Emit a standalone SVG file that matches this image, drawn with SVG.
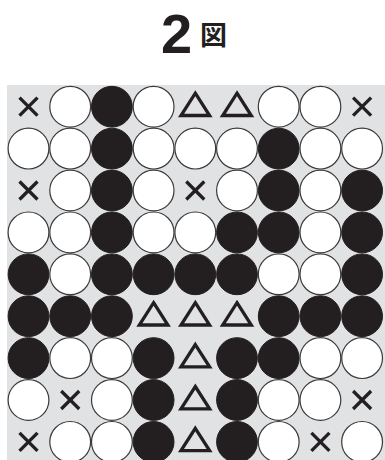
<svg xmlns="http://www.w3.org/2000/svg" xmlns:xlink="http://www.w3.org/1999/xlink" width="385" height="460" viewBox="0 0 385 460">
<style>
.w{fill:#ffffff;stroke:#3a3a3a;stroke-width:1.2}
.b{fill:#231f20;stroke:#231f20;stroke-width:1}
.x{stroke:#231f20;stroke-width:3.3;stroke-linecap:butt;fill:none}
.t{stroke:#231f20;stroke-width:3.3;fill:none;stroke-linejoin:miter}
.title{font-family:"Liberation Sans",Arial,sans-serif;font-weight:bold;fill:#231f20}
.kanji{font-family:"Noto Sans CJK JP",sans-serif;font-weight:bold;fill:#231f20}
</style>
<defs>
<circle id="W" class="w" r="20.4"/>
<circle id="B" class="b" r="20.4"/>
<g id="X" class="x"><line x1="-9" y1="-9" x2="9" y2="9"/><line x1="-9" y1="9" x2="9" y2="-9"/></g>
<polygon id="T" class="t" points="0,-13.5 14.3,8.8 -14.3,8.8"/>
</defs>
<g id="title">
<text class="title" x="161" y="53" font-size="56">2</text>
<text class="kanji" x="200" y="44.5" font-size="27">図</text>
</g>
<rect id="board" x="7" y="85" width="378" height="375" fill="#e1e2e4"/>
<g id="connectors"></g>
<g id="stones">
<g id="r0">
<use href="#X" x="28.5" y="106.7"/><use href="#W" x="70.2" y="106.7"/><use href="#B" x="111.9" y="106.7"/><use href="#W" x="153.6" y="106.7"/><use href="#T" x="195.3" y="106.7"/><use href="#T" x="237" y="106.7"/><use href="#W" x="278.7" y="106.7"/><use href="#W" x="320.4" y="106.7"/><use href="#X" x="362.1" y="106.7"/>
</g>
<g id="r1">
<use href="#W" x="28.5" y="148.6"/><use href="#W" x="70.2" y="148.6"/><use href="#B" x="111.9" y="148.6"/><use href="#W" x="153.6" y="148.6"/><use href="#W" x="195.3" y="148.6"/><use href="#W" x="237" y="148.6"/><use href="#B" x="278.7" y="148.6"/><use href="#W" x="320.4" y="148.6"/><use href="#W" x="362.1" y="148.6"/>
</g>
<g id="r2">
<use href="#X" x="28.5" y="190.5"/><use href="#W" x="70.2" y="190.5"/><use href="#B" x="111.9" y="190.5"/><use href="#W" x="153.6" y="190.5"/><use href="#X" x="195.3" y="190.5"/><use href="#W" x="237" y="190.5"/><use href="#B" x="278.7" y="190.5"/><use href="#W" x="320.4" y="190.5"/><use href="#B" x="362.1" y="190.5"/>
</g>
<g id="r3">
<use href="#W" x="28.5" y="232.4"/><use href="#W" x="70.2" y="232.4"/><use href="#B" x="111.9" y="232.4"/><use href="#W" x="153.6" y="232.4"/><use href="#W" x="195.3" y="232.4"/><use href="#B" x="237" y="232.4"/><use href="#B" x="278.7" y="232.4"/><use href="#W" x="320.4" y="232.4"/><use href="#B" x="362.1" y="232.4"/>
</g>
<g id="r4">
<use href="#B" x="28.5" y="274.3"/><use href="#W" x="70.2" y="274.3"/><use href="#B" x="111.9" y="274.3"/><use href="#B" x="153.6" y="274.3"/><use href="#B" x="195.3" y="274.3"/><use href="#B" x="237" y="274.3"/><use href="#W" x="278.7" y="274.3"/><use href="#W" x="320.4" y="274.3"/><use href="#B" x="362.1" y="274.3"/>
</g>
<g id="r5">
<use href="#B" x="28.5" y="316.2"/><use href="#B" x="70.2" y="316.2"/><use href="#B" x="111.9" y="316.2"/><use href="#T" x="153.6" y="316.2"/><use href="#T" x="195.3" y="316.2"/><use href="#T" x="237" y="316.2"/><use href="#B" x="278.7" y="316.2"/><use href="#B" x="320.4" y="316.2"/><use href="#B" x="362.1" y="316.2"/>
</g>
<g id="r6">
<use href="#B" x="28.5" y="358.1"/><use href="#W" x="70.2" y="358.1"/><use href="#W" x="111.9" y="358.1"/><use href="#B" x="153.6" y="358.1"/><use href="#T" x="195.3" y="358.1"/><use href="#B" x="237" y="358.1"/><use href="#B" x="278.7" y="358.1"/><use href="#W" x="320.4" y="358.1"/><use href="#W" x="362.1" y="358.1"/>
</g>
<g id="r7">
<use href="#W" x="28.5" y="400"/><use href="#X" x="70.2" y="400"/><use href="#W" x="111.9" y="400"/><use href="#B" x="153.6" y="400"/><use href="#T" x="195.3" y="400"/><use href="#B" x="237" y="400"/><use href="#W" x="278.7" y="400"/><use href="#W" x="320.4" y="400"/><use href="#X" x="362.1" y="400"/>
</g>
<g id="r8">
<use href="#X" x="28.5" y="441.9"/><use href="#W" x="70.2" y="441.9"/><use href="#W" x="111.9" y="441.9"/><use href="#B" x="153.6" y="441.9"/><use href="#T" x="195.3" y="441.9"/><use href="#B" x="237" y="441.9"/><use href="#W" x="278.7" y="441.9"/><use href="#X" x="320.4" y="441.9"/><use href="#W" x="362.1" y="441.9"/>
</g>
</g>
</svg>
